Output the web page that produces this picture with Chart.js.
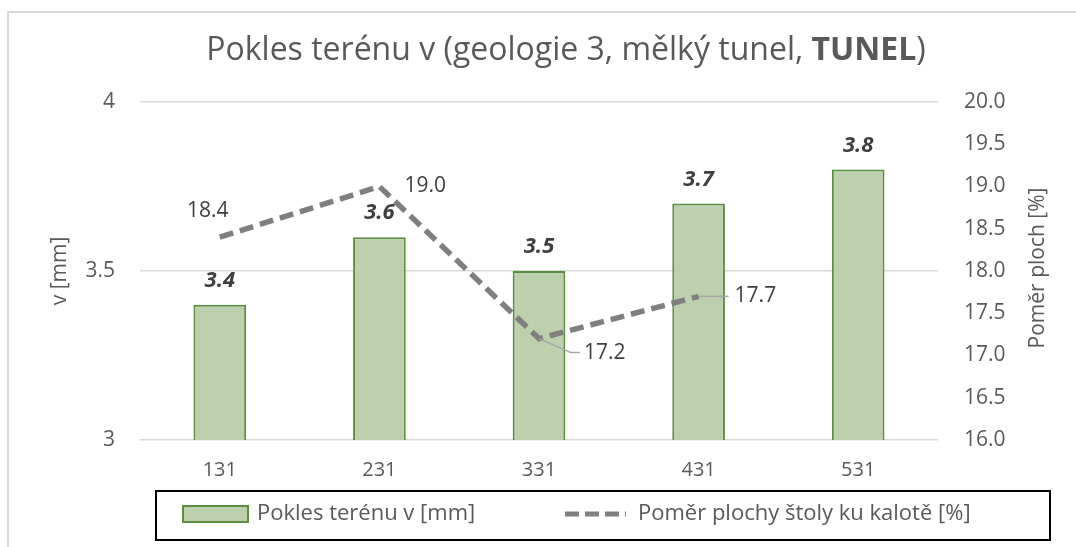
<!DOCTYPE html>
<html>
<head>
<meta charset="utf-8">
<script src="https://cdn.jsdelivr.net/npm/chart.js@4.4.0/dist/chart.umd.min.js"></script>
<style>
  html, body { margin: 0; padding: 0; background: #fff; }
</style>
</head>
<body>
<canvas id="chart" width="1076" height="547"></canvas>
<script>
// data
var categories = ['131', '231', '331', '431', '531'];
var pokles = [3.4, 3.6, 3.5, 3.7, 3.8];
var pomer = [18.4, 19.0, 17.2, 17.7, null];
var leftRange = [3, 4, 0.5];
var rightRange = [16, 20, 0.5];
var titleParts = ['Pokles terénu v (geologie 3, mělký tunel, ', 'TUNEL', ')'];
var rightTitle = 'Poměr ploch [%]';

var FONT = '"Open Sans", sans-serif';
var TXT = '#595959';
var GREEN_FILL = '#bdd0ad';
var GREEN_LINE = '#5a8f41';
var GRAY_LINE = '#7f7f7f';

// frame + background
var framePlugin = {
  id: 'frame',
  beforeDraw: function(chart) {
    var ctx = chart.ctx;
    ctx.save();
    ctx.fillStyle = '#fff';
    ctx.fillRect(0, 0, chart.width, chart.height);
    ctx.strokeStyle = '#d9d9d9';
    ctx.lineWidth = 2;
    ctx.strokeRect(8, 12, chart.width + 20, chart.height + 20);
    ctx.restore();
  }
};

// title with bold part + right axis title (reads bottom to top like excel)
var titlePlugin = {
  id: 'mixedTitle',
  afterDraw: function(chart) {
    var ctx = chart.ctx;
    ctx.save();
    var size = 32;
    var fonts = ['normal ' + size + 'px ' + FONT, 'bold ' + size + 'px ' + FONT, 'normal ' + size + 'px ' + FONT];
    var total = 0, widths = [];
    for (var i = 0; i < titleParts.length; i++) {
      ctx.font = fonts[i];
      widths[i] = ctx.measureText(titleParts[i]).width;
      total += widths[i];
    }
    var x = 566 - total / 2;
    ctx.fillStyle = TXT;
    ctx.textBaseline = 'middle';
    ctx.textAlign = 'left';
    for (var j = 0; j < titleParts.length; j++) {
      ctx.font = fonts[j];
      ctx.fillText(titleParts[j], x, 51);
      x += widths[j];
    }
    ctx.translate(1038, 268);
    ctx.rotate(-Math.PI / 2);
    ctx.font = 'normal 21px ' + FONT;
    ctx.textAlign = 'center';
    ctx.fillText(rightTitle, 0, 0);
    ctx.restore();
  }
};

// value labels
var labelPlugin = {
  id: 'valueLabels',
  afterDatasetsDraw: function(chart) {
    var ctx = chart.ctx;
    ctx.save();
    // bars
    var barMeta = chart.getDatasetMeta(1);
    ctx.font = 'italic bold 22px ' + FONT;
    ctx.fillStyle = '#404040';
    ctx.textAlign = 'center';
    ctx.textBaseline = 'middle';
    barMeta.data.forEach(function(bar, i) {
      ctx.fillText(pokles[i].toFixed(1), bar.x, bar.y - 24);
    });
    // line
    var lineMeta = chart.getDatasetMeta(0);
    var offs = [[-12, -26, 'center', false], [25, 0, 'left', false], [45, 14, 'left', true], [36, 0, 'left', true]];
    ctx.font = 'normal 21px ' + FONT;
    lineMeta.data.forEach(function(pt, i) {
      if (pomer[i] === null) return;
      var o = offs[i];
      var lx = pt.x + o[0], ly = pt.y + o[1];
      if (o[3]) {
        ctx.strokeStyle = '#a6a6a6';
        ctx.lineWidth = 1.5;
        ctx.beginPath();
        ctx.moveTo(pt.x, pt.y);
        if (i === 2) {
          ctx.lineTo(lx - 13, ly);
          ctx.lineTo(lx - 4, ly);
        } else {
          ctx.lineTo(lx - 6, ly);
        }
        ctx.stroke();
      }
      ctx.fillStyle = '#404040';
      ctx.textAlign = o[2];
      ctx.fillText(pomer[i].toFixed(1), lx, ly);
    });
    ctx.restore();
  }
};

// legend in a box
var legendPlugin = {
  id: 'boxLegend',
  afterDraw: function(chart) {
    var ctx = chart.ctx;
    ctx.save();
    ctx.strokeStyle = '#000';
    ctx.lineWidth = 2;
    ctx.strokeRect(156, 491, 894, 49);
    ctx.fillStyle = GREEN_FILL;
    ctx.fillRect(183, 506, 65, 16);
    ctx.strokeStyle = GREEN_LINE;
    ctx.lineWidth = 2;
    ctx.strokeRect(183, 506, 65, 16);
    ctx.strokeStyle = GRAY_LINE;
    ctx.lineWidth = 5;
    ctx.setLineDash([14, 6]);
    ctx.beginPath();
    ctx.moveTo(565, 514);
    ctx.lineTo(626, 514);
    ctx.stroke();
    ctx.setLineDash([]);
    ctx.font = 'normal 22px ' + FONT;
    ctx.fillStyle = TXT;
    ctx.textBaseline = 'middle';
    ctx.textAlign = 'left';
    ctx.fillText(chart.data.datasets[1].label, 257, 514);
    ctx.fillText(chart.data.datasets[0].label, 638, 514);
    ctx.restore();
  }
};

var config = {
  data: {
    labels: categories,
    datasets: [{
      type: 'line',
      label: 'Poměr plochy štoly ku kalotě [%]',
      data: pomer,
      yAxisID: 'y1',
      borderColor: GRAY_LINE,
      borderWidth: 5.5,
      borderDash: [14, 7],
      pointRadius: 0,
      tension: 0,
      fill: false,
      order: 0
    }, {
      type: 'bar',
      label: 'Pokles terénu v [mm]',
      data: pokles,
      yAxisID: 'y',
      backgroundColor: GREEN_FILL,
      borderColor: GREEN_LINE,
      borderWidth: 2,
      barPercentage: 0.33,
      categoryPercentage: 1,
      order: 1
    }]
  },
  options: {
    responsive: false,
    animation: false,
    layout: { padding: { left: 43, right: 21, top: 102, bottom: 57 } },
    plugins: {
      legend: { display: false },
      title: { display: false },
      tooltip: { enabled: false }
    },
    scales: {
      x: {
        offset: true,
        grid: { display: false, drawTicks: false },
        border: { display: false },
        ticks: { color: TXT, font: { family: FONT, size: 20 }, padding: 18 },
        afterFit: function(s) { s.height = 50; }
      },
      y: {
        position: 'left',
        min: leftRange[0], max: leftRange[1],
        ticks: { stepSize: leftRange[2], color: TXT, font: { family: FONT, size: 21 }, padding: 25,
          callback: function(v) { return String(v); } },
        grid: { color: '#d9d9d9', lineWidth: 1.5, drawTicks: false },
        border: { display: false },
        title: { display: true, text: 'v [mm]', color: TXT, font: { family: FONT, size: 21 } },
        afterFit: function(s) { s.width = 97; }
      },
      y1: {
        position: 'right',
        min: rightRange[0], max: rightRange[1],
        ticks: { stepSize: rightRange[2], color: TXT, font: { family: FONT, size: 21 }, padding: 26,
          callback: function(v) { return v.toFixed(1); } },
        grid: { display: false, drawTicks: false },
        border: { display: false },
        afterFit: function(s) { s.width = 117; }
      }
    }
  },
  plugins: [framePlugin, titlePlugin, labelPlugin, legendPlugin]
};

var myChart = new Chart(document.getElementById('chart'), config);
</script>
</body>
</html>
